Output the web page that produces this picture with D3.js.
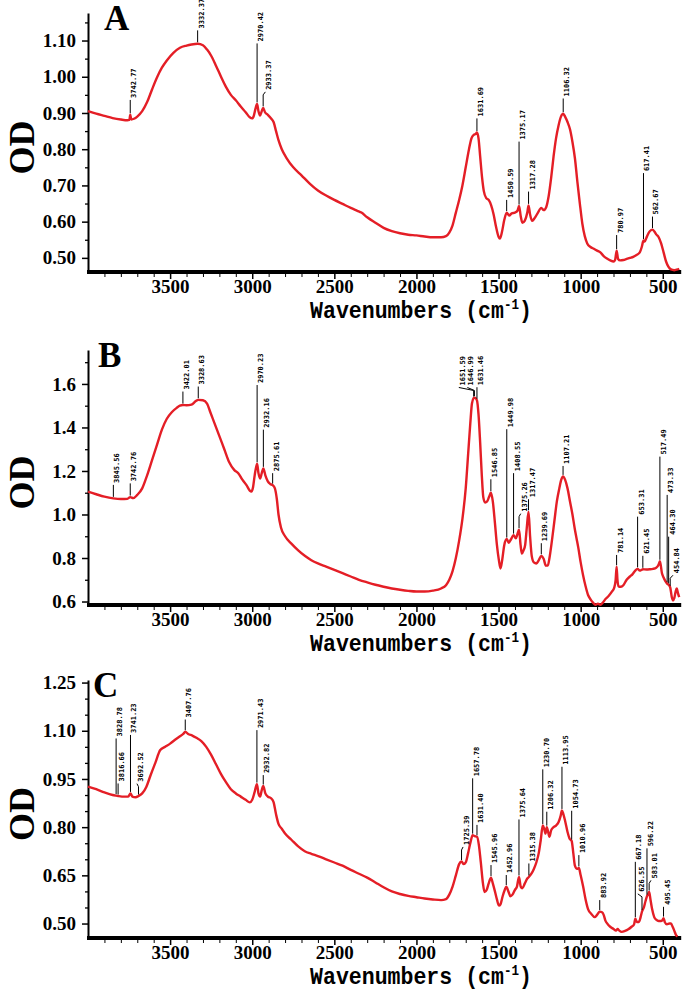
<!DOCTYPE html>
<html><head><meta charset="utf-8">
<script src="https://cdn.jsdelivr.net/npm/d3@7"></script>
<style>body{margin:0;background:#fff}svg{display:block}</style>
</head><body>
<svg id="c" width="685" height="991"></svg>
<script>
// ---------- DATA ----------
const spectrumA = [[4000,0.905],[3950,0.898],[3900,0.892],[3850,0.886],[3800,0.882],[3760,0.880],[3748,0.881],[3742.77,0.895],[3736,0.882],[3720,0.884],[3700,0.890],[3670,0.905],[3640,0.93],[3610,0.965],[3580,0.998],[3550,1.025],[3520,1.045],[3480,1.066],[3440,1.080],[3400,1.086],[3370,1.089],[3332.37,1.091],[3300,1.087],[3275,1.075],[3250,1.058],[3220,1.03],[3190,1.0],[3160,0.972],[3130,0.95],[3100,0.935],[3070,0.918],[3040,0.902],[3015,0.888],[3000,0.885],[2990,0.893],[2980,0.912],[2970.42,0.925],[2962,0.905],[2952,0.893],[2942,0.905],[2933.37,0.914],[2922,0.902],[2905,0.895],[2885,0.885],[2870,0.875],[2855,0.85],[2840,0.825],[2820,0.80],[2790,0.775],[2750,0.75],[2700,0.728],[2650,0.705],[2600,0.686],[2550,0.672],[2500,0.66],[2450,0.649],[2400,0.638],[2360,0.63],[2335,0.625],[2300,0.612],[2250,0.597],[2200,0.583],[2150,0.574],[2100,0.568],[2050,0.564],[2000,0.562],[1950,0.559],[1900,0.557],[1850,0.557],[1820,0.56],[1800,0.57],[1780,0.59],[1760,0.625],[1740,0.66],[1720,0.70],[1700,0.75],[1680,0.80],[1665,0.83],[1650,0.84],[1640,0.842],[1631.69,0.846],[1622,0.83],[1612,0.78],[1600,0.72],[1590,0.685],[1575,0.665],[1560,0.66],[1545,0.645],[1530,0.62],[1515,0.585],[1500,0.558],[1492,0.553],[1480,0.57],[1465,0.605],[1450.59,0.625],[1435,0.617],[1420,0.623],[1400,0.625],[1385,0.63],[1375.17,0.643],[1365,0.615],[1355,0.597],[1340,0.603],[1325,0.625],[1317.28,0.645],[1308,0.62],[1295,0.602],[1280,0.61],[1260,0.625],[1240,0.638],[1225,0.632],[1210,0.64],[1195,0.67],[1180,0.72],[1165,0.78],[1150,0.83],[1135,0.865],[1120,0.89],[1106.32,0.898],[1095,0.89],[1080,0.875],[1065,0.855],[1050,0.82],[1035,0.775],[1020,0.71],[1005,0.65],[990,0.595],[975,0.56],[960,0.54],[940,0.53],[920,0.525],[900,0.52],[880,0.515],[860,0.505],[840,0.498],[820,0.493],[800,0.49],[790,0.495],[780.97,0.52],[772,0.497],[760,0.493],[740,0.494],[720,0.497],[700,0.5],[680,0.503],[660,0.508],[640,0.515],[628,0.53],[617.41,0.548],[610,0.545],[600,0.555],[585,0.57],[570,0.577],[562.67,0.578],[550,0.572],[540,0.565],[525,0.557],[510,0.54],[495,0.515],[480,0.49],[465,0.475],[450,0.468],[430,0.466],[410,0.468],[400,0.47]];

const spectrumB = [[4000,1.105],[3950,1.093],[3900,1.082],[3845.56,1.074],[3800,1.071],[3760,1.072],[3742.76,1.08],[3725,1.075],[3700,1.09],[3670,1.12],[3640,1.18],[3610,1.25],[3580,1.32],[3550,1.39],[3520,1.44],[3490,1.47],[3460,1.49],[3440,1.50],[3422.01,1.503],[3400,1.502],[3370,1.505],[3345,1.52],[3328.63,1.527],[3300,1.525],[3275,1.51],[3255,1.47],[3230,1.42],[3200,1.36],[3170,1.30],[3140,1.24],[3110,1.205],[3085,1.19],[3060,1.16],[3035,1.135],[3015,1.11],[3005,1.105],[2995,1.125],[2985,1.18],[2970.23,1.233],[2962,1.19],[2952,1.165],[2942,1.19],[2932.16,1.212],[2920,1.18],[2905,1.152],[2890,1.14],[2875.61,1.135],[2862,1.12],[2850,1.07],[2840,1.0],[2825,0.94],[2800,0.90],[2760,0.865],[2720,0.835],[2680,0.81],[2640,0.79],[2600,0.775],[2550,0.76],[2500,0.745],[2450,0.73],[2400,0.715],[2350,0.70],[2300,0.688],[2250,0.677],[2200,0.668],[2150,0.66],[2100,0.654],[2050,0.649],[2000,0.646],[1950,0.646],[1900,0.65],[1850,0.66],[1820,0.675],[1800,0.70],[1780,0.74],[1760,0.80],[1740,0.88],[1720,0.98],[1700,1.12],[1685,1.28],[1672,1.42],[1662,1.51],[1651.59,1.535],[1646.99,1.537],[1640,1.535],[1631.46,1.525],[1622,1.46],[1612,1.33],[1602,1.18],[1593,1.08],[1582,1.055],[1570,1.06],[1558,1.08],[1546.85,1.10],[1535,1.06],[1522,0.96],[1510,0.86],[1498,0.79],[1488,0.752],[1478,0.79],[1465,0.86],[1449.98,0.887],[1438,0.87],[1425,0.885],[1408.55,0.905],[1395,0.89],[1385,0.91],[1375.26,0.93],[1366,0.86],[1358,0.82],[1348,0.835],[1338,0.86],[1328,0.94],[1317.47,1.013],[1308,0.90],[1298,0.81],[1285,0.78],[1270,0.775],[1255,0.79],[1239.69,0.81],[1225,0.795],[1212,0.765],[1200,0.765],[1190,0.80],[1175,0.88],[1160,0.97],[1145,1.06],[1130,1.12],[1118,1.16],[1107.21,1.175],[1095,1.16],[1080,1.12],[1065,1.06],[1050,1.0],[1035,0.93],[1025,0.89],[1015,0.85],[1000,0.78],[985,0.72],[970,0.67],[955,0.63],[940,0.61],[925,0.595],[910,0.585],[895,0.59],[880,0.585],[865,0.595],[850,0.61],[830,0.625],[810,0.645],[795,0.665],[787,0.70],[781.14,0.76],[776,0.70],[770,0.67],[755,0.668],[740,0.675],[720,0.70],[700,0.715],[685,0.725],[670,0.74],[653.31,0.75],[640,0.742],[630,0.745],[621.45,0.748],[600,0.747],[580,0.748],[560,0.75],[540,0.755],[525,0.77],[517.49,0.785],[505,0.73],[495,0.71],[485,0.695],[473.33,0.682],[464.3,0.677],[454.84,0.665],[445,0.62],[438,0.605],[430,0.615],[422,0.645],[415,0.66],[408,0.64],[400,0.62]];

const spectrumC = [[4000,0.926],[3950,0.918],[3900,0.908],[3850,0.90],[3828.78,0.898],[3816.66,0.897],[3780,0.895],[3755,0.895],[3741.23,0.905],[3730,0.895],[3710,0.893],[3692.52,0.897],[3670,0.905],[3645,0.925],[3620,0.96],[3590,1.0],[3560,1.04],[3530,1.05],[3500,1.06],[3470,1.072],[3440,1.083],[3420,1.09],[3407.76,1.097],[3390,1.09],[3365,1.085],[3340,1.078],[3310,1.068],[3280,1.05],[3250,1.025],[3220,0.995],[3190,0.965],[3160,0.94],[3130,0.918],[3100,0.905],[3070,0.895],[3040,0.885],[3015,0.877],[3000,0.885],[2985,0.91],[2971.43,0.934],[2962,0.905],[2952,0.895],[2942,0.915],[2932.82,0.928],[2920,0.905],[2905,0.895],[2885,0.89],[2870,0.878],[2855,0.84],[2840,0.81],[2820,0.795],[2800,0.78],[2760,0.76],[2720,0.74],[2680,0.725],[2640,0.717],[2600,0.71],[2550,0.70],[2500,0.69],[2450,0.68],[2400,0.667],[2350,0.655],[2300,0.643],[2250,0.628],[2200,0.613],[2150,0.60],[2100,0.592],[2050,0.586],[2000,0.582],[1950,0.578],[1900,0.575],[1850,0.573],[1820,0.576],[1800,0.59],[1780,0.615],[1760,0.65],[1740,0.685],[1725.39,0.693],[1712,0.685],[1700,0.69],[1685,0.72],[1670,0.755],[1657.78,0.775],[1645,0.772],[1631.4,0.77],[1620,0.745],[1608,0.69],[1595,0.625],[1585,0.598],[1572,0.605],[1560,0.625],[1545.96,0.643],[1535,0.625],[1522,0.6],[1510,0.575],[1498,0.556],[1488,0.56],[1475,0.585],[1462,0.605],[1452.96,0.615],[1440,0.6],[1428,0.585],[1415,0.59],[1400,0.605],[1388,0.615],[1375.64,0.645],[1365,0.615],[1355,0.61],[1340,0.625],[1325,0.64],[1315.38,0.645],[1300,0.655],[1285,0.67],[1270,0.69],[1255,0.72],[1243,0.76],[1230.7,0.805],[1222,0.795],[1214,0.78],[1206.32,0.8],[1198,0.785],[1190,0.77],[1180,0.79],[1165,0.80],[1150,0.805],[1135,0.815],[1122,0.835],[1113.95,0.852],[1105,0.84],[1095,0.82],[1080,0.785],[1068,0.765],[1054.73,0.757],[1045,0.72],[1035,0.68],[1022,0.67],[1010.96,0.673],[1000,0.65],[985,0.615],[970,0.575],[955,0.545],[935,0.53],[915,0.52],[900,0.527],[883.92,0.537],[870,0.535],[860,0.527],[850,0.51],[835,0.498],[820,0.49],[800,0.483],[785,0.478],[775,0.483],[765,0.478],[750,0.474],[730,0.477],[710,0.482],[690,0.49],[675,0.497],[667.18,0.515],[658,0.505],[645,0.505],[635,0.52],[626.55,0.537],[615,0.55],[605,0.57],[596.22,0.585],[590,0.59],[583.01,0.598],[575,0.575],[565,0.545],[552,0.52],[540,0.512],[525,0.508],[510,0.508],[500,0.512],[495.45,0.517],[488,0.505],[475,0.498],[460,0.5],[450,0.5],[440,0.49],[430,0.478],[420,0.465],[410,0.46]];

// peak annotations: [wavenumber, OD where the leader ends, optional wavenumber where the text sits]
const peaksA = [[3742.77,0.936],[3332.37,1.128],[2970.42,1.092],[2933.37,0.95,2920],[1631.69,0.885],[1450.59,0.66],[1375.17,0.821],[1317.28,0.683],[1106.32,0.94],[780.97,0.563],[617.41,0.734],[562.67,0.614]];
const peaksB = [[3845.56,1.136],[3742.76,1.143],[3422.01,1.565],[3328.63,1.588],[2970.23,1.595],[2932.16,1.39],[2875.61,1.19],[1651.59,1.57,1742],[1646.99,1.57,1690],[1631.46,1.585],[1546.85,1.162],[1449.98,1.392],[1408.55,1.19],[1375.26,0.99,1365],[1317.47,1.07],[1239.69,0.868],[1107.21,1.223],[781.14,0.814],[653.31,0.99],[621.45,0.81],[517.49,1.266],[473.33,1.09],[464.30,0.898],[454.84,0.707,438]];
const peaksC = [[3828.78,1.076],[3816.66,0.936],[3741.23,1.087],[3692.52,0.926,3702],[3407.76,1.135],[2971.43,1.102],[2932.82,0.962],[1725.39,0.729,1716],[1657.78,0.952],[1631.40,0.807],[1545.96,0.682],[1452.96,0.651],[1375.64,0.824],[1315.38,0.687],[1230.70,0.98],[1206.32,0.848],[1113.95,0.988],[1054.73,0.851],[1010.96,0.713],[883.92,0.573],[667.18,0.692],[626.55,0.583,652],[596.22,0.734],[583.01,0.625,572],[495.45,0.552]];

const xTicks = [3500,3000,2500,2000,1500,1000,500];
const yTicksA = [0.50,0.60,0.70,0.80,0.90,1.00,1.10];
const yTicksB = [0.6,0.8,1.0,1.2,1.4,1.6];
const yTicksC = [0.50,0.65,0.80,0.95,1.10,1.25];
const panelLetters = ["A","B","C"];
const yTitle = "OD";
const xTitleMain = "Wavenumbers (cm";
const xTitleSup = "-1";
const xTitleEnd = ")";

// ---------- LAYOUT ----------
const svg = d3.select("#c");
const x = d3.scaleLinear().domain([4000,400]).range([88,679.2]);
const RED = "#e41e26";

const panels = [
  {letter:panelLetters[0], data:spectrumA, peaks:peaksA, ticks:yTicksA, fmt:d3.format(".2f"), minorStep:0.05, minorStart:0.45, top:13, bottom:272, dom:[0.461,1.176], letterX:104},
  {letter:panelLetters[1], data:spectrumB, peaks:peaksB, ticks:yTicksB, fmt:d3.format(".1f"), minorStep:0.1, minorStart:0.7, top:350, bottom:605, dom:[0.584,1.756], letterX:98},
  {letter:panelLetters[2], data:spectrumC, peaks:peaksC, ticks:yTicksC, fmt:d3.format(".2f"), minorStep:0.05, minorStart:0.45, top:680, bottom:938, dom:[0.455,1.258], letterX:93}
];

panels.forEach(p => {
  const y = d3.scaleLinear().domain(p.dom).range([p.bottom, p.top]);
  const g = svg.append("g");
  const x0 = x.range()[0];

  // minor y ticks
  const minors = d3.range(p.minorStart, p.dom[1], p.minorStep)
    .filter(v => !p.ticks.some(t => Math.abs(t - v) < 1e-6) && v > p.dom[0]);
  g.append("g").attr("transform", `translate(${x0},0)`)
    .call(d3.axisLeft(y).tickValues(minors).tickSize(3).tickSizeOuter(0).tickFormat(""))
    .call(a => a.select(".domain").remove())
    .selectAll("line").attr("stroke","#000").attr("stroke-width",1.3);

  // major y axis
  const ya = g.append("g").attr("transform", `translate(${x0},0)`)
    .call(d3.axisLeft(y).tickValues(p.ticks).tickSize(6).tickSizeOuter(0).tickPadding(6).tickFormat(p.fmt));
  ya.select(".domain").attr("stroke","#000").attr("stroke-width",2);
  ya.selectAll(".tick line").attr("stroke","#000").attr("stroke-width",1.5);
  ya.selectAll(".tick text").attr("font-family","'Liberation Serif', serif").attr("font-weight","bold")
    .attr("font-size",19).attr("fill","#000");

  // x axis minor ticks
  const xMinor = d3.range(3900, 400, -100).filter(v => v % 500 !== 0);
  g.append("g").attr("transform", `translate(0,${p.bottom})`)
    .call(d3.axisBottom(x).tickValues(xMinor).tickSize(5).tickSizeOuter(0).tickFormat(""))
    .call(a => a.select(".domain").remove())
    .selectAll("line").attr("stroke","#000").attr("stroke-width",1);

  // x axis major
  const xa = g.append("g").attr("transform", `translate(0,${p.bottom})`)
    .call(d3.axisBottom(x).tickValues(xTicks).tickSize(7).tickSizeOuter(0).tickPadding(1).tickFormat(d3.format("d")));
  xa.select(".domain").remove();
  xa.selectAll(".tick line").attr("stroke","#000").attr("stroke-width",1.5);
  xa.selectAll(".tick text").attr("font-family","'Liberation Serif', serif").attr("font-weight","bold")
    .attr("font-size",19).attr("fill","#000");
  g.append("line").attr("x1", x0 - 1).attr("x2", x.range()[1] + 2)
    .attr("y1", p.bottom).attr("y2", p.bottom).attr("stroke","#000").attr("stroke-width",4);

  // x title
  const tt = g.append("text").attr("font-family","'Liberation Mono', monospace").attr("font-weight","bold")
    .attr("font-size",24).attr("fill","#000").attr("text-anchor","middle");
  tt.append("tspan").text(xTitleMain);
  tt.append("tspan").attr("font-size",14).attr("dy",-9).text(xTitleSup);
  tt.append("tspan").attr("dy",9).text(xTitleEnd);
  const w = tt.node().getComputedTextLength();
  tt.attr("transform", `translate(421,${p.bottom + 46}) scale(${222 / w},1)`);

  // y title
  g.append("text").attr("transform", `translate(34,${(p.top + p.bottom) / 2 + 5}) rotate(-90)`)
    .attr("text-anchor","middle").attr("font-family","'Liberation Serif', serif").attr("font-weight","bold")
    .attr("font-size",36).attr("fill","#000").text(yTitle);

  // panel letter
  g.append("text").attr("x", p.letterX).attr("y", p.top + 17)
    .attr("font-family","'Liberation Serif', serif").attr("font-weight","bold")
    .attr("font-size",35).attr("fill","#000").text(p.letter);

  // spectrum
  const line = d3.line().x(d => x(d[0])).y(d => y(d[1])).curve(d3.curveMonotoneX);
  g.append("path").datum(p.data).attr("d", line).attr("fill","none")
    .attr("stroke", RED).attr("stroke-width", 2.4).attr("stroke-linejoin","round");

  // peak annotations
  const odAt = wn => {
    const d = p.data;
    for (let i = 0; i < d.length - 1; i++) {
      if (wn <= d[i][0] && wn >= d[i+1][0]) {
        const t = (d[i][0] - wn) / (d[i][0] - d[i+1][0]);
        return d[i][1] + t * (d[i+1][1] - d[i][1]);
      }
    }
    return d[d.length-1][1];
  };
  p.peaks.forEach(pk => {
    const [wn, topV, textWn] = pk;
    const px = x(wn), pyBase = y(odAt(wn)) - 1.5, pyTop = y(topV);
    const pts = [[px, pyBase], [px, pyTop]];
    let tx = px, ty = pyTop;
    if (textWn !== undefined) {
      tx = x(textWn); ty = pyTop - 3;
      pts.push([tx, ty]);
    }
    g.append("path").attr("d", d3.line()(pts)).attr("fill","none").attr("stroke","#000").attr("stroke-width",1);
    g.append("text").attr("transform", `translate(${tx + 6},${ty - 2}) rotate(-90)`)
      .attr("font-family","'DejaVu Sans Mono', monospace").attr("font-weight","bold")
      .attr("font-size",7).attr("fill","#000").text(wn.toFixed(2));
  });
});
</script>
</body></html>
